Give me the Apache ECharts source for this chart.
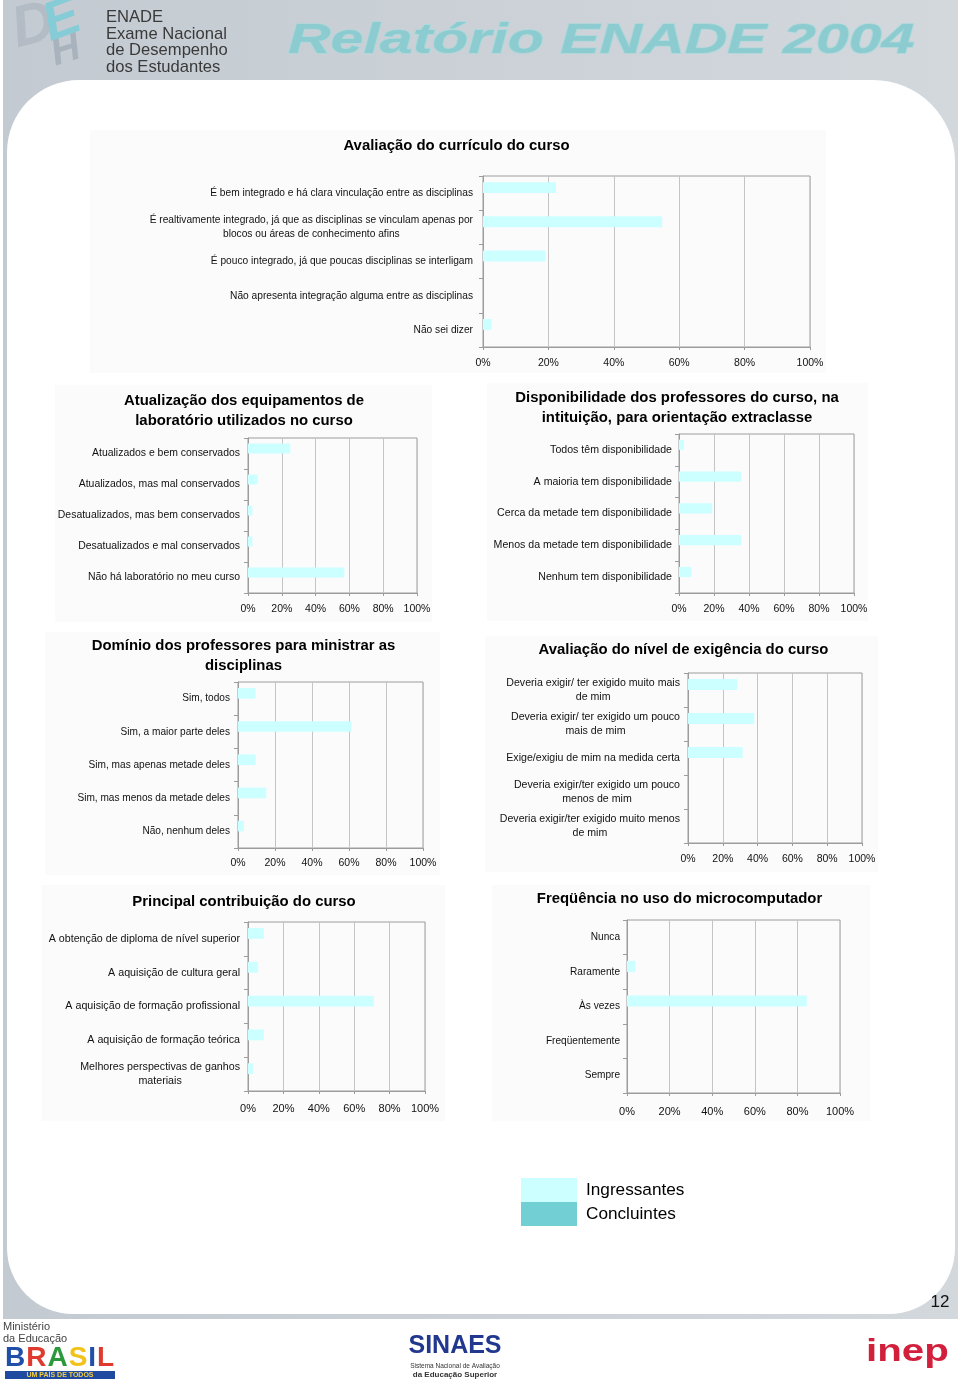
<!DOCTYPE html>
<html><head><meta charset="utf-8">
<script src="https://cdn.jsdelivr.net/npm/echarts@6/dist/echarts.min.js"></script>
<style>html,body{margin:0;padding:0;background:#fff}#c{width:960px;height:1383px}</style>
</head><body><div id="c"></div>
<script>
// ---------- DATA ----------
const seriesNames = ['Ingressantes', 'Concluintes'];
const xTickValues = [0, 20, 40, 60, 80, 100];

const title1 = 'Avaliação do currículo do curso';
const cat1 = ['É bem integrado e há clara vinculação entre as disciplinas',
  'É realtivamente integrado, já que as disciplinas se vinculam apenas por\nblocos ou áreas de conhecimento afins',
  'É pouco integrado, já que poucas disciplinas se interligam',
  'Não apresenta integração alguma entre as disciplinas',
  'Não sei dizer'];
const ing1 = [22.3, 54.8, 19.0, 0, 2.6];
const conc1 = [0, 0, 0, 0, 0];

const title2 = 'Atualização dos equipamentos de\nlaboratório utilizados no curso';
const cat2 = ['Atualizados e bem conservados', 'Atualizados, mas mal conservados',
  'Desatualizados, mas bem conservados', 'Desatualizados e mal conservados',
  'Não há laboratório no meu curso'];
const ing2 = [25.0, 5.7, 2.6, 2.6, 57.0];
const conc2 = [0, 0, 0, 0, 0];

const title3 = 'Disponibilidade dos professores do curso, na\nintituição, para orientação extraclasse';
const cat3 = ['Todos têm disponibilidade', 'A maioria tem disponibilidade',
  'Cerca da metade tem disponibilidade', 'Menos da metade tem disponibilidade',
  'Nenhum tem disponibilidade'];
const ing3 = [2.9, 35.4, 19.0, 35.4, 6.9];
const conc3 = [0, 0, 0, 0, 0];

const title4 = 'Domínio dos professores para ministrar as\ndisciplinas';
const cat4 = ['Sim, todos', 'Sim, a maior parte deles', 'Sim, mas apenas metade deles',
  'Sim, mas menos da metade deles', 'Não, nenhum deles'];
const ing4 = [9.5, 61.3, 9.5, 15.3, 3.2];
const conc4 = [0, 0, 0, 0, 0];

const title5 = 'Avaliação do nível de exigência do curso';
const cat5 = ['Deveria exigir/ ter exigido muito mais\nde mim',
  'Deveria exigir/ ter exigido um pouco\nmais de mim',
  'Exige/exigiu de mim na medida certa',
  'Deveria exigir/ter exigido um pouco\nmenos de mim',
  'Deveria exigir/ter exigido muito menos\nde mim'];
const ing5 = [28.2, 38.1, 31.4, 0, 0];
const conc5 = [0, 0, 0, 0, 0];

const title6 = 'Principal contribuição do curso';
const cat6 = ['A obtenção de diploma de nível superior', 'A aquisição de cultura geral',
  'A aquisição de formação profissional', 'A aquisição de formação teórica',
  'Melhores perspectivas de ganhos\nmateriais'];
const ing6 = [8.9, 5.7, 71.1, 8.9, 2.8];
const conc6 = [0, 0, 0, 0, 0];

const title7 = 'Freqüência no uso do microcomputador';
const cat7 = ['Nunca', 'Raramente', 'Às vezes', 'Freqüentemente', 'Sempre'];
const ing7 = [0, 3.9, 84.4, 0, 0];
const conc7 = [0, 0, 0, 0, 0];

// ---------- LAYOUT / STYLE ----------
const FONT = '"Liberation Sans", Arial, sans-serif';
const COL_ING = '#ccffff';
const COL_CONC = '#72d0d4';
const charts = [
  {title: title1, cats: cat1, ing: ing1, conc: conc1, grid: [483, 176, 327, 171], t: [456.5, 136], panel: [90, 130, 736, 243], ls: 10.2, lm: 10, ts: 10.5, tm: 11},
  {title: title2, cats: cat2, ing: ing2, conc: conc2, grid: [248, 438, 169, 155], t: [244, 390.5], panel: [55, 385, 377, 237], ls: 10.45, lm: 8, ts: 10.5, tm: 11},
  {title: title3, cats: cat3, ing: ing3, conc: conc3, grid: [679, 434, 175, 159], t: [677, 387.5], panel: [487, 383, 381, 238], ls: 10.6, lm: 7, ts: 10.5, tm: 11},
  {title: title4, cats: cat4, ing: ing4, conc: conc4, grid: [238, 682, 185, 166], t: [243.5, 635.5], panel: [45, 632, 395, 243], ls: 10.1, lm: 8, ts: 10.5, tm: 10},
  {title: title5, cats: cat5, ing: ing5, conc: conc5, grid: [688, 673, 174, 170], t: [683.5, 639.5], panel: [485, 636, 393, 236], ls: 10.6, lm: 8, ts: 10.5, tm: 11},
  {title: title6, cats: cat6, ing: ing6, conc: conc6, grid: [248, 922, 177, 169], t: [244, 891.5], panel: [42, 885, 403, 236], ls: 10.7, lm: 8, ts: 11, tm: 12},
  {title: title7, cats: cat7, ing: ing7, conc: conc7, grid: [627, 920, 213, 173], t: [679.5, 888.5], panel: [492, 885, 378, 236], ls: 10.1, lm: 7, ts: 11, tm: 13}
];

const mctx = document.createElement('canvas').getContext('2d');
function textWidth(s, font) { mctx.font = font; return mctx.measureText(s).width; }
function labelItem(label, size) {
  if (label.indexOf('\n') < 0) return label;
  let w = 0;
  label.split('\n').forEach(l => { w = Math.max(w, textWidth(l, size + 'px ' + FONT)); });
  return {value: label, textStyle: {align: 'center', padding: [0, w, 0, 0]}};
}

const AX = '#9c9c9c', GRIDC = '#c4c4c4';
const grid = [], xAxis = [], yAxis = [], series = [], title = [];
charts.forEach((c, i) => {
  grid.push({left: c.grid[0], top: c.grid[1], width: c.grid[2], height: c.grid[3],
    containLabel: false, outerBoundsMode: 'none',
    show: true, borderColor: AX, borderWidth: 1, backgroundColor: 'transparent'});
  title.push({text: c.title, left: c.t[0], top: c.t[1], textAlign: 'center', padding: 0,
    textStyle: {fontFamily: FONT, fontSize: 14.9, fontWeight: 'bold', color: '#000', lineHeight: 20}});
  xAxis.push({type: 'value', gridIndex: i, min: 0, max: 100, interval: 20,
    axisLine: {show: true, lineStyle: {color: AX}},
    axisTick: {show: true, length: 3, lineStyle: {color: AX}},
    axisLabel: {formatter: '{value}%', fontFamily: FONT, fontSize: c.ts, color: '#111', margin: c.tm},
    splitLine: {show: true, lineStyle: {color: GRIDC, width: 1}}});
  yAxis.push({type: 'category', gridIndex: i, inverse: true,
    data: c.cats.map(l => labelItem(l, c.ls)),
    axisLine: {show: true, lineStyle: {color: AX}},
    axisTick: {show: true, length: 4, interval: 0, lineStyle: {color: AX}},
    axisLabel: {interval: 0, fontFamily: FONT, fontSize: c.ls, color: '#111', margin: c.lm, lineHeight: 14},
    splitLine: {show: false}});
  series.push({name: seriesNames[0], type: 'bar', xAxisIndex: i, yAxisIndex: i, data: c.ing,
    barWidth: '32%', barGap: '0%', itemStyle: {color: COL_ING}, silent: true});
  series.push({name: seriesNames[1], type: 'bar', xAxisIndex: i, yAxisIndex: i, data: c.conc,
    barWidth: '32%', barGap: '0%', itemStyle: {color: COL_CONC}, silent: true});
});

// ---------- PAGE DECOR ----------
const graphics = [];
graphics.push({type: 'rect', z: -100, silent: true, shape: {x: 3, y: 0, width: 955, height: 1319},
  style: {fill: new echarts.graphic.LinearGradient(0, 0, 1, 0, [{offset: 0, color: '#c3cad1'}, {offset: 1, color: '#d3d8dd'}])}});
graphics.push({type: 'rect', z: -99, silent: true, shape: {x: 7, y: 80, width: 948, height: 1234, r: [72, 82, 66, 66]},
  style: {fill: '#ffffff'}});
charts.forEach(c => {
  graphics.push({type: 'rect', z: -98, silent: true, shape: {x: c.panel[0], y: c.panel[1], width: c.panel[2], height: c.panel[3]},
    style: {fill: '#fbfbfc'}});
});
// header logo (stylised letters)
graphics.push({type: 'text', z: -90, silent: true, x: 6, y: 4, rotation: 0.25,
  style: {text: 'D', font: 'bold italic 58px ' + FONT, fill: '#b3bcc5', textVerticalAlign: 'top'}});
graphics.push({type: 'text', z: -89, silent: true, x: 36, y: 2, rotation: 0.35,
  style: {text: 'E', font: 'bold italic 54px ' + FONT, fill: '#86ccd6', textVerticalAlign: 'top'}});
graphics.push({type: 'text', z: -90, silent: true, x: 46, y: 36, rotation: 0.3,
  style: {text: 'H', font: 'bold italic 40px ' + FONT, fill: '#a9b3bd', textVerticalAlign: 'top'}});
graphics.push({type: 'text', z: -80, silent: true, x: 106, y: 9,
  style: {text: 'ENADE\nExame Nacional\nde Desempenho\ndos Estudantes', font: '16.6px ' + FONT, lineHeight: 16.7, fill: '#3a3a3a', textVerticalAlign: 'top'}});
graphics.push({type: 'text', z: -80, silent: true, x: 288, y: 41, scaleX: 1.405,
  style: {text: 'Relatório ENADE 2004', font: 'bold italic 42px ' + FONT, fill: '#8ccbcf', stroke: '#a9d9db', lineWidth: 1.5, textVerticalAlign: 'middle'}});
// page number
graphics.push({type: 'text', z: -80, silent: true, x: 940, y: 1302,
  style: {text: '12', font: '17px ' + FONT, fill: '#111', textAlign: 'center', textVerticalAlign: 'middle'}});
// footer
graphics.push({type: 'text', z: -80, silent: true, x: 3, y: 1321,
  style: {text: 'Ministério\nda Educação', font: '11px ' + FONT, lineHeight: 12, fill: '#444', textVerticalAlign: 'top'}});
const brasil = [['B', '#1f4fa8'], ['R', '#e03a2e'], ['A', '#2c9a3c'], ['S', '#f2c21b'], ['I', '#1f4fa8'], ['L', '#e03a2e']];
let bx = 5;
const bFont = 'bold 28px ' + FONT;
brasil.forEach(b => {
  graphics.push({type: 'text', z: -80, silent: true, x: bx, y: 1358,
    style: {text: b[0], font: bFont, fill: b[1], textVerticalAlign: 'middle'}});
  bx += textWidth(b[0], bFont) + 1;
});
graphics.push({type: 'rect', z: -80, silent: true, shape: {x: 5, y: 1371, width: 110, height: 8}, style: {fill: '#2049a0'}});
graphics.push({type: 'text', z: -79, silent: true, x: 60, y: 1375,
  style: {text: 'UM PAÍS DE TODOS', font: 'bold 7px ' + FONT, fill: '#f4d03f', textAlign: 'center', textVerticalAlign: 'middle'}});
graphics.push({type: 'text', z: -80, silent: true, x: 455, y: 1346,
  style: {text: 'SINAES', font: 'bold 25px ' + FONT, fill: '#22388f', textAlign: 'center', textVerticalAlign: 'middle'}});
graphics.push({type: 'text', z: -80, silent: true, x: 455, y: 1366,
  style: {text: 'Sistema Nacional de Avaliação', font: '6.5px ' + FONT, fill: '#333', textAlign: 'center', textVerticalAlign: 'middle'}});
graphics.push({type: 'text', z: -80, silent: true, x: 455, y: 1375,
  style: {text: 'da Educação Superior', font: 'bold 8px ' + FONT, fill: '#333', textAlign: 'center', textVerticalAlign: 'middle'}});
graphics.push({type: 'text', z: -80, silent: true, x: 866, y: 1352, scaleX: 1.3,
  style: {text: 'inep', font: 'bold 31px ' + FONT, fill: '#d2203c', textVerticalAlign: 'middle'}});

const option = {
  animation: false,
  backgroundColor: '#ffffff',
  title: title,
  legend: {data: seriesNames, orient: 'vertical', left: 521, top: 1178, padding: 0,
    itemWidth: 56, itemHeight: 24, itemGap: 0, itemTextGap: 9, icon: 'rect', selectedMode: false,
    textStyle: {fontFamily: FONT, fontSize: 17.2, color: '#000', padding: [0, 0, 0, 4]}},
  grid: grid, xAxis: xAxis, yAxis: yAxis, series: series,
  graphic: {elements: graphics}
};
const chart = echarts.init(document.getElementById('c'), null, {renderer: 'canvas', width: 960, height: 1383});
chart.setOption(option);
</script></body></html>
